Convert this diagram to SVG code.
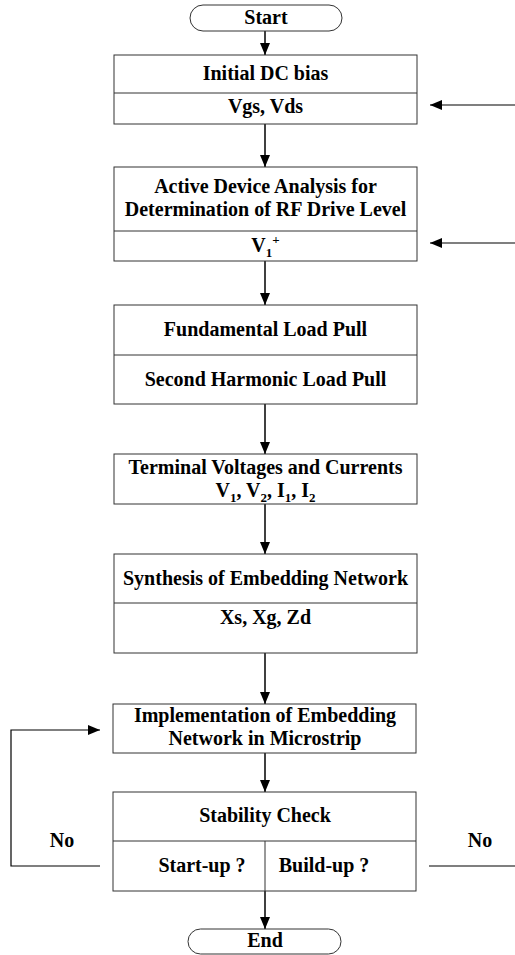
<svg xmlns="http://www.w3.org/2000/svg" width="515" height="955" viewBox="0 0 515 955">
  <style>
    .box { fill: #ffffff; stroke: #333333; stroke-width: 1; }
    .div { stroke: #333333; stroke-width: 1; }
    .t { font-family: "Liberation Serif", "Times New Roman", serif; font-weight: bold; font-size: 20px; fill: #000000; text-anchor: middle; }
    .sub { font-size: 13px; }
    .edge { fill: none; stroke: #000000; stroke-width: 1.5; }
    .thin { fill: none; stroke: #000000; stroke-width: 1.2; }
  </style>
  <defs>
    <marker id="arrow" viewBox="0 0 12 10" refX="12" refY="5" markerWidth="12" markerHeight="10" markerUnits="userSpaceOnUse" orient="auto">
      <path d="M0,0 L12,5 L0,10 Z" fill="#000000"/>
    </marker>
  </defs>
  <rect width="515" height="955" fill="#ffffff"/>

  <g id="connectors">
    <line class="edge" x1="265" y1="31" x2="265" y2="55" marker-end="url(#arrow)"/>
    <line class="edge" x1="265" y1="124" x2="265" y2="167" marker-end="url(#arrow)"/>
    <line class="edge" x1="265" y1="261" x2="265" y2="305" marker-end="url(#arrow)"/>
    <line class="edge" x1="265" y1="404" x2="265" y2="454" marker-end="url(#arrow)"/>
    <line class="edge" x1="265" y1="504" x2="265" y2="554" marker-end="url(#arrow)"/>
    <line class="edge" x1="265" y1="653" x2="265" y2="704" marker-end="url(#arrow)"/>
    <line class="edge" x1="265" y1="753" x2="265" y2="792" marker-end="url(#arrow)"/>
    <line class="edge" x1="265" y1="891" x2="265" y2="929" marker-end="url(#arrow)"/>
    <!-- feedback inputs on the right -->
    <line class="thin" x1="515" y1="105" x2="430" y2="105" marker-end="url(#arrow)"/>
    <line class="thin" x1="515" y1="243" x2="430" y2="243" marker-end="url(#arrow)"/>
    <!-- start-up failure loop on the left -->
    <polyline class="thin" points="100,866 11,866 11,730 100,730" marker-end="url(#arrow)"/>
    <text class="t" x="62" y="847">No</text>
    <!-- build-up failure exit on the right -->
    <line class="thin" x1="429" y1="866" x2="515" y2="866"/>
    <text class="t" x="480" y="847">No</text>
  </g>

  <g id="start">
    <rect class="box" x="190" y="5" width="152" height="26" rx="13"/>
    <text class="t" x="266" y="24">Start</text>
  </g>

  <g id="dc-bias">
    <rect class="box" x="114" y="55" width="303" height="69"/>
    <line class="div" x1="114" y1="93" x2="417" y2="93"/>
    <text class="t" x="265.5" y="80">Initial DC bias</text>
    <text class="t" x="265.5" y="113">Vgs, Vds</text>
  </g>

  <g id="drive-level">
    <rect class="box" x="114" y="167" width="303" height="94"/>
    <line class="div" x1="114" y1="231" x2="417" y2="231"/>
    <text class="t" x="265.5" y="193">Active Device Analysis for</text>
    <text class="t" x="265.5" y="216">Determination of RF Drive Level</text>
    <text class="t" x="265.5" y="252">V<tspan class="sub" dy="5">1</tspan><tspan class="sub" dy="-13">+</tspan></text>
  </g>

  <g id="load-pull">
    <rect class="box" x="114" y="305" width="303" height="99"/>
    <line class="div" x1="114" y1="355" x2="417" y2="355"/>
    <text class="t" x="265.5" y="336">Fundamental Load Pull</text>
    <text class="t" x="265.5" y="386">Second Harmonic Load Pull</text>
  </g>

  <g id="terminal">
    <rect class="box" x="114" y="454" width="303" height="50"/>
    <text class="t" x="265.5" y="474">Terminal Voltages and Currents</text>
    <text class="t" x="265.5" y="497">V<tspan class="sub" dy="5">1</tspan><tspan dy="-5">, V</tspan><tspan class="sub" dy="5">2</tspan><tspan dy="-5">, I</tspan><tspan class="sub" dy="5">1</tspan><tspan dy="-5">, I</tspan><tspan class="sub" dy="5">2</tspan></text>
  </g>

  <g id="synthesis">
    <rect class="box" x="114" y="554" width="303" height="99"/>
    <line class="div" x1="114" y1="603" x2="417" y2="603"/>
    <text class="t" x="265.5" y="585">Synthesis of Embedding Network</text>
    <text class="t" x="265.5" y="624">Xs, Xg, Zd</text>
  </g>

  <g id="implementation">
    <rect class="box" x="113" y="704" width="303" height="49"/>
    <text class="t" x="265" y="722">Implementation of Embedding</text>
    <text class="t" x="265" y="745">Network in Microstrip</text>
  </g>

  <g id="stability">
    <rect class="box" x="113" y="792" width="303" height="99"/>
    <line class="div" x1="113" y1="841" x2="416" y2="841"/>
    <line class="div" x1="265" y1="841" x2="265" y2="891"/>
    <text class="t" x="265" y="822">Stability Check</text>
    <text class="t" x="202" y="872">Start-up ?</text>
    <text class="t" x="324" y="872">Build-up ?</text>
  </g>

  <g id="end">
    <rect class="box" x="188" y="929" width="153" height="25" rx="12.5"/>
    <text class="t" x="265" y="947">End</text>
  </g>
</svg>
